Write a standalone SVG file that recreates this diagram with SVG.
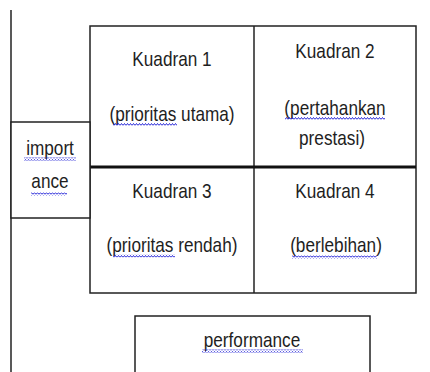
<svg xmlns="http://www.w3.org/2000/svg" width="430" height="372" viewBox="0 0 430 372">
<style>
.t{font-family:"Liberation Sans",Arial,sans-serif;font-size:20px;fill:#1e1e1e;text-anchor:middle}
.b{fill:#fff;stroke:#222;stroke-width:1.5}
.ln{stroke:#222;stroke-width:1.5;fill:none}
.thick{stroke:#111;stroke-width:3;fill:none}
.sq{fill:url(#squig)}
</style>
<defs>
<pattern id="squig" x="0" y="0" width="3" height="3" patternUnits="userSpaceOnUse">
<path d="M0,2.5 L1.5,0.5 L3,2.5" stroke="#2525d8" stroke-width="1" fill="none"/>
</pattern>
</defs>
<rect width="430" height="372" fill="#fff"/>
<g id="connectors">
<line class="ln" x1="11" y1="10" x2="11" y2="372"/>
</g>
<g id="grid">
<rect class="b" x="90" y="26" width="326" height="267"/>
<line class="ln" x1="254" y1="26" x2="254" y2="293"/>
<line class="thick" x1="90" y1="167" x2="416" y2="167"/>
</g>
<g id="importance">
<rect class="b" x="11" y="122" width="79" height="96"/>
<text class="t" transform="translate(50,155) scale(0.86,1)">import</text>
<text class="t" transform="translate(50,188) scale(0.86,1)">ance</text>
<rect class="sq" x="24" y="157.5" width="52" height="3"/>
<rect class="sq" x="31" y="192.5" width="36" height="3"/>
</g>
<g id="q1">
<text class="t" transform="translate(172,66) scale(0.86,1)">Kuadran 1</text>
<text class="t" transform="translate(172,121) scale(0.86,1)">(prioritas utama)</text>
<rect class="sq" x="113" y="123" width="64" height="3"/>
</g>
<g id="q2">
<text class="t" transform="translate(335,58) scale(0.86,1)">Kuadran 2</text>
<text class="t" transform="translate(335,115) scale(0.86,1)">(pertahankan</text>
<text class="t" transform="translate(332,145) scale(0.86,1)">prestasi)</text>
<rect class="sq" x="285" y="117" width="100" height="3"/>
</g>
<g id="q3">
<text class="t" transform="translate(172,198) scale(0.86,1)">Kuadran 3</text>
<text class="t" transform="translate(172,252) scale(0.86,1)">(prioritas rendah)</text>
<rect class="sq" x="113" y="254.5" width="62" height="3"/>
</g>
<g id="q4">
<text class="t" transform="translate(335,198) scale(0.86,1)">Kuadran 4</text>
<text class="t" transform="translate(336,252) scale(0.86,1)">(berlebihan)</text>
<rect class="sq" x="292" y="255.5" width="85" height="3"/>
</g>
<g id="performance">
<rect class="b" x="135" y="316" width="235" height="70"/>
<text class="t" transform="translate(252,347) scale(0.86,1)">performance</text>
<rect class="sq" x="202" y="349.5" width="101" height="3"/>
</g>
</svg>
